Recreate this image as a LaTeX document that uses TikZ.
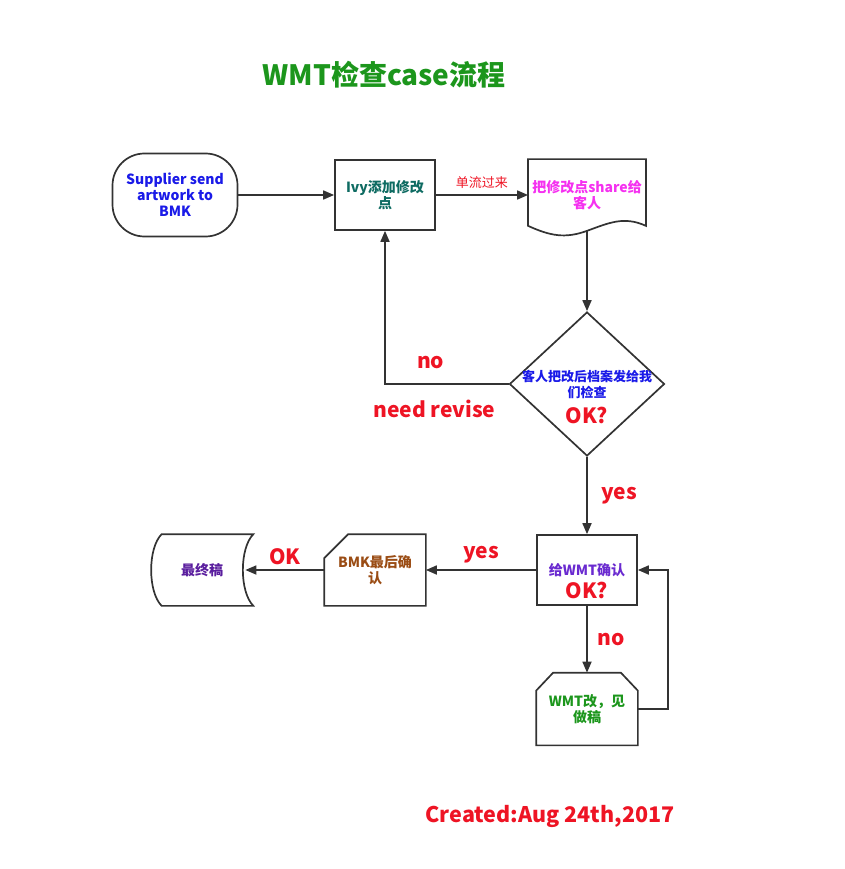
\documentclass[tikz,border=0pt]{standalone}
\usepackage{fontspec}
\setmainfont{Noto Sans CJK SC}
\usetikzlibrary{arrows.meta,positioning,shapes.geometric}

\definecolor{linegray}{HTML}{333333}
\definecolor{supblue}{HTML}{1A1AE8}
\definecolor{ivyteal}{HTML}{0E6B62}
\definecolor{sharepink}{HTML}{F531F0}
\definecolor{flowred}{HTML}{EE1424}
\definecolor{wmtpurple}{HTML}{6A2AD0}
\definecolor{finpurple}{HTML}{5A1E9E}
\definecolor{bmkbrown}{HTML}{9A4C14}
\definecolor{titlegreen}{HTML}{1C961C}

\begin{document}
\begin{tikzpicture}[x=1pt,y=1pt,->,>={Triangle[length=11pt,width=9pt]},line width=1.7pt,color=linegray,
  font=\bfseries\fontsize{14}{16}\selectfont]
  \tikzstyle{fcbox}=[draw=linegray,fill=white,align=center,inner sep=2pt]
  \tikzstyle{term}=[fcbox,rectangle,rounded corners=32pt,minimum width=125pt,minimum height=83pt]
  \tikzstyle{proc}=[fcbox,rectangle,minimum width=100pt,minimum height=70pt]
  \tikzstyle{decision}=[fcbox,diamond,minimum width=155pt,minimum height=144pt,inner sep=0pt]
  \tikzstyle{outline}=[rectangle,align=center,minimum width=100pt,minimum height=70pt]
  \tikzstyle{redlbl}=[text=flowred,font=\bfseries\fontsize{21}{24}\selectfont]
  \tikzstyle{flowtext}=[text=flowred,font=\mdseries\fontsize{13}{15}\selectfont]

  \useasboundingbox (0,0) rectangle (844,-869);

  \node[text=titlegreen,font=\bfseries\fontsize{28}{30}\selectfont] (title) at (384,-75) {WMT检查case流程};

  \node[term,text=supblue]       (start) at (175,-195) {Supplier send\\artwork to\\BMK};
  \node[proc,text=ivyteal]       (ivy)   [right of=start,node distance=210pt] {Ivy添加修改\\点};
  \node[outline,text=sharepink]  (doc)   [right of=ivy,node distance=202pt,minimum width=116pt] {把修改点share给\\客人};
  \node[decision,label={[text=supblue,align=center,font=\bfseries\fontsize{13}{16}\selectfont]center:{客人把改后档案发给我\\们检查}}]
                                 (chk)   [below of=doc,node distance=189pt] {};
  \node[redlbl]                  (chkok) [below of=chk,node distance=31pt] {OK?};
  \node[proc,text=wmtpurple]     (wmt)   [below of=chk,node distance=186pt] {给WMT确认};
  \node[redlbl]                  (wmtok) [below of=wmt,node distance=20pt] {OK?};
  \node[outline,text=titlegreen] (fix)   [below of=wmt,node distance=139pt,minimum height=71pt] {WMT改，见\\做稿};
  \node[outline,text=bmkbrown]   (bmk)   [left of=wmt,node distance=212pt] {BMK最后确\\认};
  \node[outline,text=finpurple]  (fin)   [left of=bmk,node distance=173pt,minimum width=101pt] {最终稿};

  % shapes without a ready-made tikz shape
  \draw[-] (doc.north west) -- (doc.north east) -- ([yshift=5pt]doc.south east)
    .. controls +(-22pt,10pt) and +(22pt,8pt) .. (doc.south)
    .. controls +(-22pt,-8pt) and +(22pt,-10pt) .. ([yshift=5pt]doc.south west) -- cycle;
  \draw[-] ([xshift=24pt]bmk.north west) -- (bmk.north east) -- (bmk.south east)
    -- (bmk.south west) -- ([yshift=-24pt]bmk.north west) -- cycle;
  \draw[-] ([xshift=17pt]fix.north west) -- ([xshift=-17pt]fix.north east) -- ([yshift=-18pt]fix.north east)
    -- (fix.south east) -- (fix.south west) -- ([yshift=-18pt]fix.north west) -- cycle;
  \draw[-] ([xshift=11pt]fin.north west) -- (fin.north east)
    .. controls +(-14pt,-14pt) and +(-14pt,14pt) .. (fin.south east)
    -- ([xshift=11pt]fin.south west)
    .. controls +(-14pt,14pt) and +(-14pt,-14pt) .. ([xshift=11pt]fin.north west) -- cycle;

  \path
  (start) edge (ivy)
  (ivy) edge node[above=2pt,flowtext] {单流过来} (doc)
  (doc) edge (chk)
  (chk) edge node[right=10pt,redlbl] {yes} (wmt)
  (wmt) edge node[above=3pt,redlbl] {yes} (bmk)
        edge node[right=6pt,redlbl] {no} (fix)
  (bmk) edge node[above=1pt,redlbl] {OK} ([xshift=-8pt]fin.east);

  \draw (chk.west) -| node[pos=0.315,above=11pt,redlbl] {no}
                      node[pos=0.3,below=12pt,redlbl] {need revise} (ivy.south);
  \draw (fix.east) -- ++(30pt,0) |- (wmt.east);

  \node[text=flowred,font=\bfseries\fontsize{21.5}{24}\selectfont] (created) at (550,-816) {Created:Aug 24th,2017};
\end{tikzpicture}
\end{document}
